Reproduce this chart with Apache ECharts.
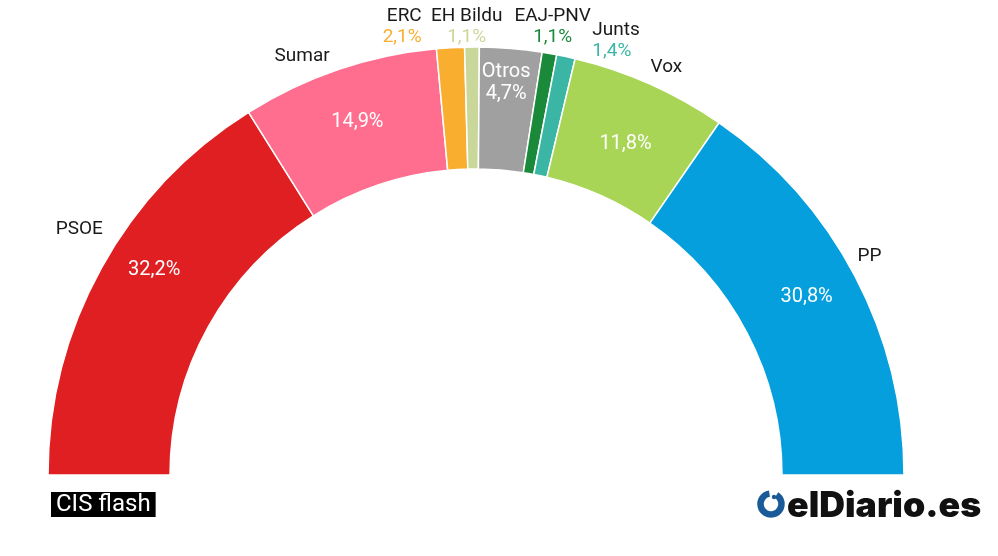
<!DOCTYPE html>
<html><head><meta charset="utf-8">
<script src="https://cdn.jsdelivr.net/npm/echarts@6/dist/echarts.min.js"></script>
<style>html,body{margin:0;padding:0;background:#fff}#c{width:998px;height:556px}</style>
</head><body><div id="c"></div>
<script>
// ---- data ----
const parties = ['PSOE','Sumar','ERC','EH Bildu','Otros','EAJ-PNV','Junts','Vox','PP'];
const shares  = [32.2, 14.9, 2.1, 1.1, 4.7, 1.1, 1.4, 11.8, 30.8];
const colors  = ['#E01F22','#FF6E8E','#F9AE2F','#C9D89A','#A0A0A0','#1A8A3A','#3BB6A5','#A8D555','#049FDC'];
const valueInside  = [true, true, false, false, true, false, false, true, true];
const nameOutside  = [true, true, true, true, false, true, true, true, true];
const valueOutside = [false, false, true, true, false, true, true, false, false];
// ---- label styling tweaks ----
const insideNudge  = [[2,-26],[0,-3],[0,0],[0,0],[0,-23],[0,0],[0,0],[-1,7],[3,-6]];
const outsideAlign = ['center','center','right','center','center','center','left','center','center'];
const outsideNudge = [[4,-24],[-27,15],[-27,9],[-5,10],[0,0],[-2,3],[20,14],[4,11],[-12,-6]];

const fmt = v => v.toFixed(1).replace('.', ',') + '%';
const FONT = 'Roboto';

const rich = { n: { fontFamily: FONT, fontSize: 19, color: '#1a1a1a', lineHeight: 21 } };
colors.forEach((c, i) => { rich['v' + i] = { fontFamily: FONT, fontSize: 19, color: c, lineHeight: 21 }; });

const chart = echarts.init(document.getElementById('c'), null, { renderer: 'canvas' });
const common = {
  type: 'pie', center: [476, 475], radius: [306, 428],
  startAngle: 180, endAngle: 0, clockwise: true,
  avoidLabelOverlap: false, silent: true, animation: false,
  emphasis: { disabled: true }
};
chart.setOption({
  backgroundColor: '#fff',
  series: [
    Object.assign({}, common, {
      itemStyle: { borderColor: '#fff', borderWidth: 1.5 },
      label: {
        position: 'inside', color: '#fff', fontFamily: FONT, fontSize: 20, lineHeight: 22,
        formatter: p => p.name === 'Otros' ? p.name + '\n' + fmt(shares[p.dataIndex]) : fmt(shares[p.dataIndex])
      },
      labelLine: { show: false },
      labelLayout: p => ({ dx: insideNudge[p.dataIndex][0], dy: insideNudge[p.dataIndex][1] }),
      data: parties.map((n, i) => ({ name: n, value: shares[i], itemStyle: { color: colors[i] }, label: { show: valueInside[i] } }))
    }),
    Object.assign({}, common, {
      itemStyle: { color: 'rgba(0,0,0,0)', borderWidth: 0 },
      label: {
        position: 'outside', distanceToLabelLine: 0, fontFamily: FONT,
        formatter: p => valueOutside[p.dataIndex]
          ? '{n|' + p.name + '}\n{v' + p.dataIndex + '|' + fmt(shares[p.dataIndex]) + '}'
          : '{n|' + p.name + '}',
        rich: rich
      },
      labelLine: { show: false, length: 30, length2: 0 },
      labelLayout: p => ({ align: outsideAlign[p.dataIndex], dx: outsideNudge[p.dataIndex][0], dy: outsideNudge[p.dataIndex][1] }),
      data: parties.map((n, i) => ({ name: n, value: shares[i], label: { show: nameOutside[i] } }))
    })
  ],
  graphic: [
    { type: 'text', left: 51, top: 492, silent: true,
      style: { text: 'CIS flash', fill: '#fff', fontFamily: FONT, fontSize: 24, lineHeight: 25, backgroundColor: '#000', padding: [0, 5] } },
    { type: 'arc', silent: true,
      shape: { cx: 771, cy: 504, r: 10.5, startAngle: -Math.PI / 2 + 0.55, endAngle: -Math.PI / 2 + 2 * Math.PI - 0.15, clockwise: true },
      style: { stroke: '#1B5A98', lineWidth: 6.5, fill: null } },
    { type: 'circle', silent: true, shape: { cx: 774, cy: 497, r: 2.2 }, style: { fill: '#1B5A98' } },
    { type: 'text', x: 787, y: 506, scaleX: 1.02, silent: true,
      style: { text: 'elDiario.es', fill: '#111', fontFamily: 'Inter', fontWeight: 900, fontSize: 35, verticalAlign: 'middle', align: 'left' } }
  ]
});
</script>
</body></html>
